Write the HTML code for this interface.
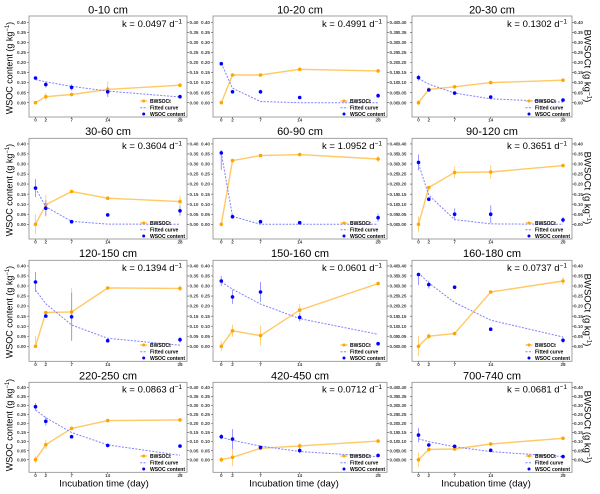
<!DOCTYPE html>
<html><head><meta charset="utf-8"><style>
html,body{margin:0;padding:0;background:#fff;}
svg{display:block;}
text{font-family:"Liberation Sans",Arial,sans-serif;}
.t{font-size:4.6px;font-weight:bold;fill:#444;}
.tc{font-size:4.6px;font-weight:bold;fill:#444;text-anchor:middle;}
.ti{font-size:11px;fill:#000;text-anchor:middle;}
.k{font-size:9.5px;fill:#000;text-anchor:end;}
.lg{font-size:5px;font-weight:bold;fill:#000;}
.ax{font-size:9.6px;fill:#000;text-anchor:middle;}
.yl{font-size:9px;fill:#000;text-anchor:middle;}
.yr{font-size:9.5px;fill:#000;text-anchor:middle;}
.box{fill:none;stroke:#8a8a8a;stroke-width:0.8;}
.ol{fill:none;stroke:#FFC966;stroke-width:1.4;}
.oe{fill:none;stroke:#FFD27F;stroke-width:1;}
.op{fill:#FFA500;}
.bf{fill:none;stroke:#8080FF;stroke-width:1;stroke-dasharray:2 1.4;}
.be{fill:none;stroke:#9A9AFF;stroke-width:1;}
.bp{fill:#0000FF;}
.tk{stroke:#555;stroke-width:2;stroke-dasharray:0.6 9.45;}
.tk4{stroke:#555;stroke-width:2;stroke-dasharray:0.6 8.45;}
.xt{stroke:#555;stroke-width:0.6;}
</style></head><body>
<svg width="600" height="494" viewBox="0 0 600 494" xmlns="http://www.w3.org/2000/svg">
<rect width="600" height="494" fill="#fff"/>

<!-- boxes -->
<rect class="box" x="29" y="16" width="158" height="101"/>
<rect class="box" x="213" y="16" width="174" height="101"/>
<rect class="box" x="412" y="16" width="160" height="101"/>
<rect class="box" x="29" y="138.3" width="158" height="100.7"/>
<rect class="box" x="213" y="138.3" width="174" height="100.7"/>
<rect class="box" x="412" y="138.3" width="160" height="100.7"/>
<rect class="box" x="29" y="260.3" width="158" height="101"/>
<rect class="box" x="213" y="260.3" width="174" height="101"/>
<rect class="box" x="412" y="260.3" width="160" height="101"/>
<rect class="box" x="29" y="382.3" width="158" height="90"/>
<rect class="box" x="213" y="382.3" width="174" height="90"/>
<rect class="box" x="412" y="382.3" width="160" height="90"/>

<!-- titles -->
<text class="ti" x="108" y="13.3">0-10 cm</text>
<text class="ti" x="300" y="13.3">10-20 cm</text>
<text class="ti" x="492" y="13.3">20-30 cm</text>
<text class="ti" x="108" y="135">30-60 cm</text>
<text class="ti" x="300" y="135">60-90 cm</text>
<text class="ti" x="492" y="135">90-120 cm</text>
<text class="ti" x="108" y="257">120-150 cm</text>
<text class="ti" x="300" y="257">150-160 cm</text>
<text class="ti" x="492" y="257">160-180 cm</text>
<text class="ti" x="108" y="379.5">220-250 cm</text>
<text class="ti" x="300" y="379.5">420-450 cm</text>
<text class="ti" x="492" y="379.5">700-740 cm</text>

<!-- k labels -->
<text class="k" x="182" y="27">k = 0.0497 d<tspan dy="-3.5" font-size="6.5">−1</tspan></text>
<text class="k" x="382" y="27">k = 0.4991 d<tspan dy="-3.5" font-size="6.5">−1</tspan></text>
<text class="k" x="567" y="27">k = 0.1302 d<tspan dy="-3.5" font-size="6.5">−1</tspan></text>
<text class="k" x="182" y="149">k = 0.3604 d<tspan dy="-3.5" font-size="6.5">−1</tspan></text>
<text class="k" x="382" y="149">k = 1.0952 d<tspan dy="-3.5" font-size="6.5">−1</tspan></text>
<text class="k" x="567" y="149">k = 0.3651 d<tspan dy="-3.5" font-size="6.5">−1</tspan></text>
<text class="k" x="182" y="271">k = 0.1394 d<tspan dy="-3.5" font-size="6.5">−1</tspan></text>
<text class="k" x="382" y="271">k = 0.0601 d<tspan dy="-3.5" font-size="6.5">−1</tspan></text>
<text class="k" x="567" y="271">k = 0.0737 d<tspan dy="-3.5" font-size="6.5">−1</tspan></text>
<text class="k" x="182" y="392.5">k = 0.0863 d<tspan dy="-3.5" font-size="6.5">−1</tspan></text>
<text class="k" x="382" y="392.5">k = 0.0712 d<tspan dy="-3.5" font-size="6.5">−1</tspan></text>
<text class="k" x="567" y="392.5">k = 0.0681 d<tspan dy="-3.5" font-size="6.5">−1</tspan></text>

<!-- y tick labels rows 1-3 -->
<g transform="translate(0,102.7)">
<line class="tk" x1="28" y1="0.3" x2="28" y2="-81"/><line class="tk" x1="188" y1="0.3" x2="188" y2="-81"/>
<line class="tk" x1="212" y1="0.3" x2="212" y2="-81"/><line class="tk" x1="388" y1="0.3" x2="388" y2="-81"/>
<line class="tk" x1="411" y1="0.3" x2="411" y2="-81"/><line class="tk" x1="573" y1="0.3" x2="573" y2="-81"/>
<text class="t" text-anchor="end"><tspan x="26" y="1.6">0.00</tspan><tspan x="26" y="-8.45">0.05</tspan><tspan x="26" y="-18.5">0.10</tspan><tspan x="26" y="-28.55">0.15</tspan><tspan x="26" y="-38.6">0.20</tspan><tspan x="26" y="-48.65">0.25</tspan><tspan x="26" y="-58.7">0.30</tspan><tspan x="26" y="-68.75">0.35</tspan><tspan x="26" y="-78.8">0.40</tspan></text>
<text class="t"><tspan x="189.5" y="1.6">0.00</tspan><tspan x="189.5" y="-8.45">0.05</tspan><tspan x="189.5" y="-18.5">0.10</tspan><tspan x="189.5" y="-28.55">0.15</tspan><tspan x="189.5" y="-38.6">0.20</tspan><tspan x="189.5" y="-48.65">0.25</tspan><tspan x="189.5" y="-58.7">0.30</tspan><tspan x="189.5" y="-68.75">0.35</tspan><tspan x="189.5" y="-78.8">0.40</tspan></text>
<text class="t" text-anchor="end"><tspan x="210" y="1.6">0.00</tspan><tspan x="210" y="-8.45">0.05</tspan><tspan x="210" y="-18.5">0.10</tspan><tspan x="210" y="-28.55">0.15</tspan><tspan x="210" y="-38.6">0.20</tspan><tspan x="210" y="-48.65">0.25</tspan><tspan x="210" y="-58.7">0.30</tspan><tspan x="210" y="-68.75">0.35</tspan><tspan x="210" y="-78.8">0.40</tspan></text>
<text class="t"><tspan x="389.5" y="1.6">0.00</tspan><tspan x="389.5" y="-8.45">0.05</tspan><tspan x="389.5" y="-18.5">0.10</tspan><tspan x="389.5" y="-28.55">0.15</tspan><tspan x="389.5" y="-38.6">0.20</tspan><tspan x="389.5" y="-48.65">0.25</tspan><tspan x="389.5" y="-58.7">0.30</tspan><tspan x="389.5" y="-68.75">0.35</tspan><tspan x="389.5" y="-78.8">0.40</tspan></text>
<text class="t" text-anchor="end"><tspan x="406.5" y="1.6">0.00</tspan><tspan x="406.5" y="-8.45">0.05</tspan><tspan x="406.5" y="-18.5">0.10</tspan><tspan x="406.5" y="-28.55">0.15</tspan><tspan x="406.5" y="-38.6">0.20</tspan><tspan x="406.5" y="-48.65">0.25</tspan><tspan x="406.5" y="-58.7">0.30</tspan><tspan x="406.5" y="-68.75">0.35</tspan><tspan x="406.5" y="-78.8">0.40</tspan></text>
<text class="t"><tspan x="574" y="1.6">0.00</tspan><tspan x="574" y="-8.45">0.05</tspan><tspan x="574" y="-18.5">0.10</tspan><tspan x="574" y="-28.55">0.15</tspan><tspan x="574" y="-38.6">0.20</tspan><tspan x="574" y="-48.65">0.25</tspan><tspan x="574" y="-58.7">0.30</tspan><tspan x="574" y="-68.75">0.35</tspan><tspan x="574" y="-78.8">0.40</tspan></text>
</g>
<g transform="translate(0,224.3)">
<line class="tk" x1="28" y1="0.3" x2="28" y2="-81"/><line class="tk" x1="188" y1="0.3" x2="188" y2="-81"/>
<line class="tk" x1="212" y1="0.3" x2="212" y2="-81"/><line class="tk" x1="388" y1="0.3" x2="388" y2="-81"/>
<line class="tk" x1="411" y1="0.3" x2="411" y2="-81"/><line class="tk" x1="573" y1="0.3" x2="573" y2="-81"/>
<text class="t" text-anchor="end"><tspan x="26" y="1.6">0.00</tspan><tspan x="26" y="-8.45">0.05</tspan><tspan x="26" y="-18.5">0.10</tspan><tspan x="26" y="-28.55">0.15</tspan><tspan x="26" y="-38.6">0.20</tspan><tspan x="26" y="-48.65">0.25</tspan><tspan x="26" y="-58.7">0.30</tspan><tspan x="26" y="-68.75">0.35</tspan><tspan x="26" y="-78.8">0.40</tspan></text>
<text class="t"><tspan x="189.5" y="1.6">0.00</tspan><tspan x="189.5" y="-8.45">0.05</tspan><tspan x="189.5" y="-18.5">0.10</tspan><tspan x="189.5" y="-28.55">0.15</tspan><tspan x="189.5" y="-38.6">0.20</tspan><tspan x="189.5" y="-48.65">0.25</tspan><tspan x="189.5" y="-58.7">0.30</tspan><tspan x="189.5" y="-68.75">0.35</tspan><tspan x="189.5" y="-78.8">0.40</tspan></text>
<text class="t" text-anchor="end"><tspan x="210" y="1.6">0.00</tspan><tspan x="210" y="-8.45">0.05</tspan><tspan x="210" y="-18.5">0.10</tspan><tspan x="210" y="-28.55">0.15</tspan><tspan x="210" y="-38.6">0.20</tspan><tspan x="210" y="-48.65">0.25</tspan><tspan x="210" y="-58.7">0.30</tspan><tspan x="210" y="-68.75">0.35</tspan><tspan x="210" y="-78.8">0.40</tspan></text>
<text class="t"><tspan x="389.5" y="1.6">0.00</tspan><tspan x="389.5" y="-8.45">0.05</tspan><tspan x="389.5" y="-18.5">0.10</tspan><tspan x="389.5" y="-28.55">0.15</tspan><tspan x="389.5" y="-38.6">0.20</tspan><tspan x="389.5" y="-48.65">0.25</tspan><tspan x="389.5" y="-58.7">0.30</tspan><tspan x="389.5" y="-68.75">0.35</tspan><tspan x="389.5" y="-78.8">0.40</tspan></text>
<text class="t" text-anchor="end"><tspan x="406.5" y="1.6">0.00</tspan><tspan x="406.5" y="-8.45">0.05</tspan><tspan x="406.5" y="-18.5">0.10</tspan><tspan x="406.5" y="-28.55">0.15</tspan><tspan x="406.5" y="-38.6">0.20</tspan><tspan x="406.5" y="-48.65">0.25</tspan><tspan x="406.5" y="-58.7">0.30</tspan><tspan x="406.5" y="-68.75">0.35</tspan><tspan x="406.5" y="-78.8">0.40</tspan></text>
<text class="t"><tspan x="574" y="1.6">0.00</tspan><tspan x="574" y="-8.45">0.05</tspan><tspan x="574" y="-18.5">0.10</tspan><tspan x="574" y="-28.55">0.15</tspan><tspan x="574" y="-38.6">0.20</tspan><tspan x="574" y="-48.65">0.25</tspan><tspan x="574" y="-58.7">0.30</tspan><tspan x="574" y="-68.75">0.35</tspan><tspan x="574" y="-78.8">0.40</tspan></text>
</g>
<g transform="translate(0,346.3)">
<line class="tk" x1="28" y1="0.3" x2="28" y2="-81"/><line class="tk" x1="188" y1="0.3" x2="188" y2="-81"/>
<line class="tk" x1="212" y1="0.3" x2="212" y2="-81"/><line class="tk" x1="388" y1="0.3" x2="388" y2="-81"/>
<line class="tk" x1="411" y1="0.3" x2="411" y2="-81"/><line class="tk" x1="573" y1="0.3" x2="573" y2="-81"/>
<text class="t" text-anchor="end"><tspan x="26" y="1.6">0.00</tspan><tspan x="26" y="-8.45">0.05</tspan><tspan x="26" y="-18.5">0.10</tspan><tspan x="26" y="-28.55">0.15</tspan><tspan x="26" y="-38.6">0.20</tspan><tspan x="26" y="-48.65">0.25</tspan><tspan x="26" y="-58.7">0.30</tspan><tspan x="26" y="-68.75">0.35</tspan><tspan x="26" y="-78.8">0.40</tspan></text>
<text class="t"><tspan x="189.5" y="1.6">0.00</tspan><tspan x="189.5" y="-8.45">0.05</tspan><tspan x="189.5" y="-18.5">0.10</tspan><tspan x="189.5" y="-28.55">0.15</tspan><tspan x="189.5" y="-38.6">0.20</tspan><tspan x="189.5" y="-48.65">0.25</tspan><tspan x="189.5" y="-58.7">0.30</tspan><tspan x="189.5" y="-68.75">0.35</tspan><tspan x="189.5" y="-78.8">0.40</tspan></text>
<text class="t" text-anchor="end"><tspan x="210" y="1.6">0.00</tspan><tspan x="210" y="-8.45">0.05</tspan><tspan x="210" y="-18.5">0.10</tspan><tspan x="210" y="-28.55">0.15</tspan><tspan x="210" y="-38.6">0.20</tspan><tspan x="210" y="-48.65">0.25</tspan><tspan x="210" y="-58.7">0.30</tspan><tspan x="210" y="-68.75">0.35</tspan><tspan x="210" y="-78.8">0.40</tspan></text>
<text class="t"><tspan x="389.5" y="1.6">0.00</tspan><tspan x="389.5" y="-8.45">0.05</tspan><tspan x="389.5" y="-18.5">0.10</tspan><tspan x="389.5" y="-28.55">0.15</tspan><tspan x="389.5" y="-38.6">0.20</tspan><tspan x="389.5" y="-48.65">0.25</tspan><tspan x="389.5" y="-58.7">0.30</tspan><tspan x="389.5" y="-68.75">0.35</tspan><tspan x="389.5" y="-78.8">0.40</tspan></text>
<text class="t" text-anchor="end"><tspan x="406.5" y="1.6">0.00</tspan><tspan x="406.5" y="-8.45">0.05</tspan><tspan x="406.5" y="-18.5">0.10</tspan><tspan x="406.5" y="-28.55">0.15</tspan><tspan x="406.5" y="-38.6">0.20</tspan><tspan x="406.5" y="-48.65">0.25</tspan><tspan x="406.5" y="-58.7">0.30</tspan><tspan x="406.5" y="-68.75">0.35</tspan><tspan x="406.5" y="-78.8">0.40</tspan></text>
<text class="t"><tspan x="574" y="1.6">0.00</tspan><tspan x="574" y="-8.45">0.05</tspan><tspan x="574" y="-18.5">0.10</tspan><tspan x="574" y="-28.55">0.15</tspan><tspan x="574" y="-38.6">0.20</tspan><tspan x="574" y="-48.65">0.25</tspan><tspan x="574" y="-58.7">0.30</tspan><tspan x="574" y="-68.75">0.35</tspan><tspan x="574" y="-78.8">0.40</tspan></text>
</g>
<g transform="translate(0,459.7)">
<line class="tk4" x1="28" y1="0.3" x2="28" y2="-73"/><line class="tk4" x1="188" y1="0.3" x2="188" y2="-73"/>
<line class="tk4" x1="212" y1="0.3" x2="212" y2="-73"/><line class="tk4" x1="388" y1="0.3" x2="388" y2="-73"/>
<line class="tk4" x1="411" y1="0.3" x2="411" y2="-73"/><line class="tk4" x1="573" y1="0.3" x2="573" y2="-73"/>
<text class="t" text-anchor="end"><tspan x="26" y="1.6">0.00</tspan><tspan x="26" y="-7.45">0.05</tspan><tspan x="26" y="-16.5">0.10</tspan><tspan x="26" y="-25.55">0.15</tspan><tspan x="26" y="-34.6">0.20</tspan><tspan x="26" y="-43.65">0.25</tspan><tspan x="26" y="-52.7">0.30</tspan><tspan x="26" y="-61.75">0.35</tspan><tspan x="26" y="-70.8">0.40</tspan></text>
<text class="t"><tspan x="189.5" y="1.6">0.00</tspan><tspan x="189.5" y="-7.45">0.05</tspan><tspan x="189.5" y="-16.5">0.10</tspan><tspan x="189.5" y="-25.55">0.15</tspan><tspan x="189.5" y="-34.6">0.20</tspan><tspan x="189.5" y="-43.65">0.25</tspan><tspan x="189.5" y="-52.7">0.30</tspan><tspan x="189.5" y="-61.75">0.35</tspan><tspan x="189.5" y="-70.8">0.40</tspan></text>
<text class="t" text-anchor="end"><tspan x="210" y="1.6">0.00</tspan><tspan x="210" y="-7.45">0.05</tspan><tspan x="210" y="-16.5">0.10</tspan><tspan x="210" y="-25.55">0.15</tspan><tspan x="210" y="-34.6">0.20</tspan><tspan x="210" y="-43.65">0.25</tspan><tspan x="210" y="-52.7">0.30</tspan><tspan x="210" y="-61.75">0.35</tspan><tspan x="210" y="-70.8">0.40</tspan></text>
<text class="t"><tspan x="389.5" y="1.6">0.00</tspan><tspan x="389.5" y="-7.45">0.05</tspan><tspan x="389.5" y="-16.5">0.10</tspan><tspan x="389.5" y="-25.55">0.15</tspan><tspan x="389.5" y="-34.6">0.20</tspan><tspan x="389.5" y="-43.65">0.25</tspan><tspan x="389.5" y="-52.7">0.30</tspan><tspan x="389.5" y="-61.75">0.35</tspan><tspan x="389.5" y="-70.8">0.40</tspan></text>
<text class="t" text-anchor="end"><tspan x="406.5" y="1.6">0.00</tspan><tspan x="406.5" y="-7.45">0.05</tspan><tspan x="406.5" y="-16.5">0.10</tspan><tspan x="406.5" y="-25.55">0.15</tspan><tspan x="406.5" y="-34.6">0.20</tspan><tspan x="406.5" y="-43.65">0.25</tspan><tspan x="406.5" y="-52.7">0.30</tspan><tspan x="406.5" y="-61.75">0.35</tspan><tspan x="406.5" y="-70.8">0.40</tspan></text>
<text class="t"><tspan x="574" y="1.6">0.00</tspan><tspan x="574" y="-7.45">0.05</tspan><tspan x="574" y="-16.5">0.10</tspan><tspan x="574" y="-25.55">0.15</tspan><tspan x="574" y="-34.6">0.20</tspan><tspan x="574" y="-43.65">0.25</tspan><tspan x="574" y="-52.7">0.30</tspan><tspan x="574" y="-61.75">0.35</tspan><tspan x="574" y="-70.8">0.40</tspan></text>
</g>

<!-- x ticks and labels -->
<path class="xt" d="M35.5 117v2M45.8 117v2M71.6 117v2M107.7 117v2M180 117v2M221.3 117v2M232.5 117v2M260.5 117v2M299.7 117v2M378.1 117v2M418.5 117v2M428.8 117v2M454.6 117v2M490.7 117v2M563 117v2
M35.5 239v2M45.8 239v2M71.6 239v2M107.7 239v2M180 239v2M221.3 239v2M232.5 239v2M260.5 239v2M299.7 239v2M378.1 239v2M418.5 239v2M428.8 239v2M454.6 239v2M490.7 239v2M563 239v2
M35.5 361.3v2M45.8 361.3v2M71.6 361.3v2M107.7 361.3v2M180 361.3v2M221.3 361.3v2M232.5 361.3v2M260.5 361.3v2M299.7 361.3v2M378.1 361.3v2M418.5 361.3v2M428.8 361.3v2M454.6 361.3v2M490.7 361.3v2M563 361.3v2
M35.5 472.3v2M45.8 472.3v2M71.6 472.3v2M107.7 472.3v2M180 472.3v2M221.3 472.3v2M232.5 472.3v2M260.5 472.3v2M299.7 472.3v2M378.1 472.3v2M418.5 472.3v2M428.8 472.3v2M454.6 472.3v2M490.7 472.3v2M563 472.3v2"/>
<text class="tc"><tspan x="35.5" y="121.7">0</tspan><tspan x="45.8" y="121.7">2</tspan><tspan x="71.6" y="121.7">7</tspan><tspan x="107.7" y="121.7">14</tspan><tspan x="180" y="121.7">28</tspan><tspan x="221.3" y="121.7">0</tspan><tspan x="232.5" y="121.7">2</tspan><tspan x="260.5" y="121.7">7</tspan><tspan x="299.7" y="121.7">14</tspan><tspan x="378.1" y="121.7">28</tspan><tspan x="418.5" y="121.7">0</tspan><tspan x="428.8" y="121.7">2</tspan><tspan x="454.6" y="121.7">7</tspan><tspan x="490.7" y="121.7">14</tspan><tspan x="563" y="121.7">28</tspan></text>
<text class="tc"><tspan x="35.5" y="243.7">0</tspan><tspan x="45.8" y="243.7">2</tspan><tspan x="71.6" y="243.7">7</tspan><tspan x="107.7" y="243.7">14</tspan><tspan x="180" y="243.7">28</tspan><tspan x="221.3" y="243.7">0</tspan><tspan x="232.5" y="243.7">2</tspan><tspan x="260.5" y="243.7">7</tspan><tspan x="299.7" y="243.7">14</tspan><tspan x="378.1" y="243.7">28</tspan><tspan x="418.5" y="243.7">0</tspan><tspan x="428.8" y="243.7">2</tspan><tspan x="454.6" y="243.7">7</tspan><tspan x="490.7" y="243.7">14</tspan><tspan x="563" y="243.7">28</tspan></text>
<text class="tc"><tspan x="35.5" y="366">0</tspan><tspan x="45.8" y="366">2</tspan><tspan x="71.6" y="366">7</tspan><tspan x="107.7" y="366">14</tspan><tspan x="180" y="366">28</tspan><tspan x="221.3" y="366">0</tspan><tspan x="232.5" y="366">2</tspan><tspan x="260.5" y="366">7</tspan><tspan x="299.7" y="366">14</tspan><tspan x="378.1" y="366">28</tspan><tspan x="418.5" y="366">0</tspan><tspan x="428.8" y="366">2</tspan><tspan x="454.6" y="366">7</tspan><tspan x="490.7" y="366">14</tspan><tspan x="563" y="366">28</tspan></text>
<text class="tc"><tspan x="35.5" y="477">0</tspan><tspan x="45.8" y="477">2</tspan><tspan x="71.6" y="477">7</tspan><tspan x="107.7" y="477">14</tspan><tspan x="180" y="477">28</tspan><tspan x="221.3" y="477">0</tspan><tspan x="232.5" y="477">2</tspan><tspan x="260.5" y="477">7</tspan><tspan x="299.7" y="477">14</tspan><tspan x="378.1" y="477">28</tspan><tspan x="418.5" y="477">0</tspan><tspan x="428.8" y="477">2</tspan><tspan x="454.6" y="477">7</tspan><tspan x="490.7" y="477">14</tspan><tspan x="563" y="477">28</tspan></text>

<!-- axis titles -->
<text class="ax" x="104" y="486.5">Incubation time (day)</text>
<text class="ax" x="294" y="486.5">Incubation time (day)</text>
<text class="ax" x="486" y="486.5">Incubation time (day)</text>
<text class="yl" transform="translate(12.3,68) rotate(-90)">WSOC content (g kg<tspan dy="-3.2" font-size="6">−1</tspan><tspan dy="3.2">)</tspan></text>
<text class="yl" transform="translate(12.3,190) rotate(-90)">WSOC content (g kg<tspan dy="-3.2" font-size="6">−1</tspan><tspan dy="3.2">)</tspan></text>
<text class="yl" transform="translate(12.3,312) rotate(-90)">WSOC content (g kg<tspan dy="-3.2" font-size="6">−1</tspan><tspan dy="3.2">)</tspan></text>
<text class="yl" transform="translate(12.3,425) rotate(-90)">WSOC content (g kg<tspan dy="-3.2" font-size="6">−1</tspan><tspan dy="3.2">)</tspan></text>
<text class="yr" transform="translate(584.5,66) rotate(90)">BWSOCt (g kg<tspan dy="-3.2" font-size="6.3">−1</tspan><tspan dy="3.2">)</tspan></text>
<text class="yr" transform="translate(584.5,188) rotate(90)">BWSOCt (g kg<tspan dy="-3.2" font-size="6.3">−1</tspan><tspan dy="3.2">)</tspan></text>
<text class="yr" transform="translate(584.5,310) rotate(90)">BWSOCt (g kg<tspan dy="-3.2" font-size="6.3">−1</tspan><tspan dy="3.2">)</tspan></text>
<text class="yr" transform="translate(584.5,427) rotate(90)">BWSOCt (g kg<tspan dy="-3.2" font-size="6.3">−1</tspan><tspan dy="3.2">)</tspan></text>

<!-- ===== Panel 1 ===== -->
<polyline class="ol" points="35.5,102.7 45.8,96.7 71.6,94.5 107.7,89.4 180,85.2"/>
<path class="oe" d="M45.8 92.7V100.7M71.6 92.5V96.5M107.7 81.4V97.4M180 83.2V87.2"/>
<g class="op"><circle cx="35.5" cy="102.7" r="1.8"/><circle cx="45.8" cy="96.7" r="1.8"/><circle cx="71.6" cy="94.5" r="1.8"/><circle cx="107.7" cy="89.4" r="1.8"/><circle cx="180" cy="85.2" r="1.8"/></g>
<polyline class="bf" points="35.5,79.6 45.8,81.8 71.6,86.4 107.7,91.1 180,97.0"/>
<path class="be" d="M35.5 77V79M45.8 81.6V87.6M71.6 84.4V90.4M107.7 86.8V96.8M180 94.7V98.7"/>
<g class="bp"><circle cx="35.5" cy="78" r="1.8"/><circle cx="45.8" cy="84.6" r="1.8"/><circle cx="71.6" cy="87.4" r="1.8"/><circle cx="107.7" cy="91.8" r="1.8"/><circle cx="180" cy="96.7" r="1.8"/></g>

<!-- ===== Panel 2 ===== -->
<polyline class="ol" points="221.3,102.7 232.5,75 260.5,75 299.7,69.3 378.1,70.9"/>
<path class="oe" d="M378.1 68.9V72.9M260.5 73.8V76.2M232.5 73.8V76.2"/>
<g class="op"><circle cx="221.3" cy="102.7" r="1.8"/><circle cx="232.5" cy="75" r="1.8"/><circle cx="260.5" cy="75" r="1.8"/><circle cx="299.7" cy="69.3" r="1.8"/><circle cx="378.1" cy="70.9" r="1.8"/></g>
<polyline class="bf" points="221.3,63.5 232.5,88.2 260.5,101.5 299.7,102.7 378.1,102.7"/>
<path class="be" d="M260.5 89.8V93.8M378.1 93.3V98.1M232.5 90.8V92.8"/>
<g class="bp"><circle cx="221.3" cy="63.7" r="1.8"/><circle cx="232.5" cy="91.8" r="1.8"/><circle cx="260.5" cy="91.8" r="1.8"/><circle cx="299.7" cy="97.5" r="1.8"/><circle cx="378.1" cy="95.7" r="1.8"/></g>

<!-- ===== Panel 3 ===== -->
<polyline class="ol" points="418.5,102.7 428.8,89.4 454.6,86.8 490.7,82.6 563,80.2"/>
<path class="oe" d="M418.5 100.3V105.1M428.8 87.4V91.4"/>
<g class="op"><circle cx="418.5" cy="102.7" r="1.8"/><circle cx="428.8" cy="89.4" r="1.8"/><circle cx="454.6" cy="86.8" r="1.8"/><circle cx="490.7" cy="82.6" r="1.8"/><circle cx="563" cy="80.2" r="1.8"/></g>
<polyline class="bf" points="418.5,78.6 428.8,84.1 454.6,93.1 490.7,98.8 563,102.1"/>
<path class="be" d="M418.5 74.6V80.6"/>
<g class="bp"><circle cx="418.5" cy="77.6" r="1.8"/><circle cx="428.8" cy="90" r="1.8"/><circle cx="454.6" cy="93.1" r="1.8"/><circle cx="490.7" cy="97.1" r="1.8"/><circle cx="563" cy="100.1" r="1.8"/></g>

<!-- ===== Panel 4 ===== -->
<polyline class="ol" points="35.5,224.3 45.8,204.8 71.6,191.5 107.7,198.2 180,201.6"/>
<path class="oe" d="M35.5 214.3V234.3M45.8 194.8V214.8M180 195.6V207.6"/>
<g class="op"><circle cx="35.5" cy="224.3" r="1.8"/><circle cx="45.8" cy="204.8" r="1.8"/><circle cx="71.6" cy="191.5" r="1.8"/><circle cx="107.7" cy="198.2" r="1.8"/><circle cx="180" cy="201.6" r="1.8"/></g>
<polyline class="bf" points="35.5,188.1 45.8,206.8 71.6,221.4 107.7,224.1 180,224.3"/>
<path class="be" d="M35.5 179.1V197.1M45.8 200.2V216.2M180 205.8V215.8"/>
<g class="bp"><circle cx="35.5" cy="188.1" r="1.8"/><circle cx="45.8" cy="208.2" r="1.8"/><circle cx="71.6" cy="221.7" r="1.8"/><circle cx="107.7" cy="214.9" r="1.8"/><circle cx="180" cy="210.8" r="1.8"/></g>

<!-- ===== Panel 5 ===== -->
<polyline class="ol" points="221.3,224.3 232.5,160.6 260.5,155.6 299.7,154.6 378.1,159"/>
<path class="oe" d="M378.1 156V162M299.7 153.4V155.8"/>
<g class="op"><circle cx="221.3" cy="224.3" r="1.8"/><circle cx="232.5" cy="160.6" r="1.8"/><circle cx="260.5" cy="155.6" r="1.8"/><circle cx="299.7" cy="154.6" r="1.8"/><circle cx="378.1" cy="159" r="1.8"/></g>
<polyline class="bf" points="221.3,152.9 232.5,216.3 260.5,224.3 299.7,224.3 378.1,224.3"/>
<path class="be" d="M221.3 150V170M232.5 214.7V218.7M378.1 213.7V221.7"/>
<g class="bp"><circle cx="221.3" cy="152.9" r="1.8"/><circle cx="232.5" cy="216.7" r="1.8"/><circle cx="260.5" cy="221.7" r="1.8"/><circle cx="299.7" cy="222.7" r="1.8"/><circle cx="378.1" cy="217.7" r="1.8"/></g>

<!-- ===== Panel 6 ===== -->
<polyline class="ol" points="418.5,224.3 428.8,187.5 454.6,172.4 490.7,172 563,165.6"/>
<path class="oe" d="M418.5 216.3V232.3M454.6 166.4V178.4M490.7 165V179M563 163.6V167.6"/>
<g class="op"><circle cx="418.5" cy="224.3" r="1.8"/><circle cx="428.8" cy="187.5" r="1.8"/><circle cx="454.6" cy="172.4" r="1.8"/><circle cx="490.7" cy="172" r="1.8"/><circle cx="563" cy="165.6" r="1.8"/></g>
<polyline class="bf" points="418.5,164 428.8,195.2 454.6,219.6 490.7,223.9 563,224.3"/>
<path class="be" d="M418.5 154.4V170.4M454.6 208.2V220.2M490.7 205.2V223.2M563 216.9V222.9"/>
<g class="bp"><circle cx="418.5" cy="162.4" r="1.8"/><circle cx="428.8" cy="199.2" r="1.8"/><circle cx="454.6" cy="214.2" r="1.8"/><circle cx="490.7" cy="214.2" r="1.8"/><circle cx="563" cy="219.9" r="1.8"/></g>

<!-- ===== Panel 7 ===== -->
<polyline class="ol" points="35.5,346.3 45.8,312.5 71.6,311.9 107.7,288 180,288.4"/>
<path class="oe" d="M35.5 336.3V346.3M71.6 288V338M180 285.4V291.4"/>
<g class="op"><circle cx="35.5" cy="346.3" r="1.8"/><circle cx="45.8" cy="312.5" r="1.8"/><circle cx="71.6" cy="311.9" r="1.8"/><circle cx="107.7" cy="288" r="1.8"/><circle cx="180" cy="288.4" r="1.8"/></g>
<polyline class="bf" points="35.5,290 45.8,303.7 71.6,325 107.7,338.3 180,345.2"/>
<path class="be" d="M35.5 272V292M71.6 292.7V340.9M180 336.7V342.7"/>
<g class="bp"><circle cx="35.5" cy="282" r="1.8"/><circle cx="45.8" cy="316.1" r="1.8"/><circle cx="71.6" cy="316.8" r="1.8"/><circle cx="107.7" cy="340.7" r="1.8"/><circle cx="180" cy="339.7" r="1.8"/></g>

<!-- ===== Panel 8 ===== -->
<polyline class="ol" points="221.3,346.3 232.5,330.8 260.5,335.6 299.7,310.1 378.1,283.6"/>
<path class="oe" d="M221.3 341.3V351.3M232.5 324.8V336.8M260.5 325.6V345.6M299.7 304.1V316.1"/>
<g class="op"><circle cx="221.3" cy="346.3" r="1.8"/><circle cx="232.5" cy="330.8" r="1.8"/><circle cx="260.5" cy="335.6" r="1.8"/><circle cx="299.7" cy="310.1" r="1.8"/><circle cx="378.1" cy="283.6" r="1.8"/></g>
<polyline class="bf" points="221.3,282 232.5,289.2 260.5,304.1 299.7,318.6 378.1,334.3"/>
<path class="be" d="M221.3 276V286M232.5 289.9V303.9M260.5 282V302M299.7 313.4V321.4"/>
<g class="bp"><circle cx="221.3" cy="281" r="1.8"/><circle cx="232.5" cy="296.9" r="1.8"/><circle cx="260.5" cy="292" r="1.8"/><circle cx="299.7" cy="317.4" r="1.8"/><circle cx="378.1" cy="343.7" r="1.8"/></g>

<!-- ===== Panel 9 ===== -->
<polyline class="ol" points="418.5,346.3 428.8,336.2 454.6,333.6 490.7,292 563,281"/>
<path class="oe" d="M418.5 336.3V356.3M428.8 333.2V339.2M563 277V285"/>
<g class="op"><circle cx="418.5" cy="346.3" r="1.8"/><circle cx="428.8" cy="336.2" r="1.8"/><circle cx="454.6" cy="333.6" r="1.8"/><circle cx="490.7" cy="292" r="1.8"/><circle cx="563" cy="281" r="1.8"/></g>
<polyline class="bf" points="418.5,272.9 428.8,283 454.6,302.5 490.7,320.2 563,337"/>
<path class="be" d="M418.5 273V285M428.8 280.6V288.6M563 337.3V343.3"/>
<g class="bp"><circle cx="418.5" cy="274.5" r="1.8"/><circle cx="428.8" cy="284.6" r="1.8"/><circle cx="454.6" cy="287.2" r="1.8"/><circle cx="490.7" cy="329.2" r="1.8"/><circle cx="563" cy="340.3" r="1.8"/></g>

<!-- ===== Panel 10 ===== -->
<polyline class="ol" points="35.5,459.7 45.8,444.7 71.6,428.4 107.7,420.6 180,419.9"/>
<path class="oe" d="M35.5 456.1V463.3M45.8 440.2V449.2M71.6 426.6V430.2"/>
<g class="op"><circle cx="35.5" cy="459.7" r="1.8"/><circle cx="45.8" cy="444.7" r="1.8"/><circle cx="71.6" cy="428.4" r="1.8"/><circle cx="107.7" cy="420.6" r="1.8"/><circle cx="180" cy="419.9" r="1.8"/></g>
<polyline class="bf" points="35.5,409.9 45.8,417.7 71.6,432.5 107.7,444.9 180,455.3"/>
<path class="be" d="M35.5 403.1V410.3M45.8 416.8V425.8M71.6 434.9V438.5"/>
<g class="bp"><circle cx="35.5" cy="406.7" r="1.8"/><circle cx="45.8" cy="421.3" r="1.8"/><circle cx="71.6" cy="436.7" r="1.8"/><circle cx="107.7" cy="445.4" r="1.8"/><circle cx="180" cy="446.1" r="1.8"/></g>

<!-- ===== Panel 11 ===== -->
<polyline class="ol" points="221.3,459.7 232.5,457.3 260.5,448.3 299.7,445.9 378.1,441.1"/>
<path class="oe" d="M221.3 457V462.4M232.5 448.3V466.3M299.7 443.2V448.6"/>
<g class="op"><circle cx="221.3" cy="459.7" r="1.8"/><circle cx="232.5" cy="457.3" r="1.8"/><circle cx="260.5" cy="448.3" r="1.8"/><circle cx="299.7" cy="445.9" r="1.8"/><circle cx="378.1" cy="441.1" r="1.8"/></g>
<polyline class="bf" points="221.3,437.4 232.5,440.3 260.5,446.1 299.7,451.5 378.1,456.7"/>
<path class="be" d="M221.3 434V439.4M232.5 429.1V449.1M299.7 447.9V453.3"/>
<g class="bp"><circle cx="221.3" cy="436.7" r="1.8"/><circle cx="232.5" cy="439.1" r="1.8"/><circle cx="260.5" cy="447.4" r="1.8"/><circle cx="299.7" cy="450.6" r="1.8"/><circle cx="378.1" cy="455.4" r="1.8"/></g>

<!-- ===== Panel 12 ===== -->
<polyline class="ol" points="418.5,459.7 428.8,449.4 454.6,449 490.7,444 563,438.3"/>
<path class="oe" d="M418.5 452.5V466.9M428.8 447.6V451.2M490.7 442.2V445.8"/>
<g class="op"><circle cx="418.5" cy="459.7" r="1.8"/><circle cx="428.8" cy="449.4" r="1.8"/><circle cx="454.6" cy="449" r="1.8"/><circle cx="490.7" cy="444" r="1.8"/><circle cx="563" cy="438.3" r="1.8"/></g>
<polyline class="bf" points="418.5,438.9 428.8,441.6 454.6,446.8 490.7,451.6 563,456.6"/>
<path class="be" d="M418.5 427.9V442.3M428.8 443.2V446.8M490.7 448.5V452.1"/>
<g class="bp"><circle cx="418.5" cy="435.1" r="1.8"/><circle cx="428.8" cy="445" r="1.8"/><circle cx="454.6" cy="446.3" r="1.8"/><circle cx="490.7" cy="450.3" r="1.8"/><circle cx="563" cy="456.6" r="1.8"/></g>

<!-- ===== Legends ===== -->
<g>
<path class="ol" d="M140.2 101h7M340.5 101h7M525.5 101h7"/>
<circle class="op" cx="143.7" cy="101" r="1.5"/><circle class="op" cx="344" cy="101" r="1.5"/><circle class="op" cx="529" cy="101" r="1.5"/>
<path class="bf" d="M140.2 107.7h7M340.5 107.7h7M525.5 107.7h7"/>
<circle class="bp" cx="143.7" cy="114" r="1.5"/><circle class="bp" cx="344" cy="114" r="1.5"/><circle class="bp" cx="529" cy="114" r="1.5"/>
<text class="lg"><tspan x="150" y="102.8">BWSOCt</tspan><tspan x="150" y="109.5">Fitted curve</tspan><tspan x="150" y="115.8">WSOC content</tspan></text>
<text class="lg"><tspan x="350" y="102.8">BWSOCt</tspan><tspan x="350" y="109.5">Fitted curve</tspan><tspan x="350" y="115.8">WSOC content</tspan></text>
<text class="lg"><tspan x="535" y="102.8">BWSOCt</tspan><tspan x="535" y="109.5">Fitted curve</tspan><tspan x="535" y="115.8">WSOC content</tspan></text>
</g>
<g>
<path class="ol" d="M140.2 223h7M340.5 223h7M525.5 223h7"/>
<circle class="op" cx="143.7" cy="223" r="1.5"/><circle class="op" cx="344" cy="223" r="1.5"/><circle class="op" cx="529" cy="223" r="1.5"/>
<path class="bf" d="M140.2 229.7h7M340.5 229.7h7M525.5 229.7h7"/>
<circle class="bp" cx="143.7" cy="236" r="1.5"/><circle class="bp" cx="344" cy="236" r="1.5"/><circle class="bp" cx="529" cy="236" r="1.5"/>
<text class="lg"><tspan x="150" y="224.8">BWSOCt</tspan><tspan x="150" y="231.5">Fitted curve</tspan><tspan x="150" y="237.8">WSOC content</tspan></text>
<text class="lg"><tspan x="350" y="224.8">BWSOCt</tspan><tspan x="350" y="231.5">Fitted curve</tspan><tspan x="350" y="237.8">WSOC content</tspan></text>
<text class="lg"><tspan x="535" y="224.8">BWSOCt</tspan><tspan x="535" y="231.5">Fitted curve</tspan><tspan x="535" y="237.8">WSOC content</tspan></text>
</g>
<g>
<path class="ol" d="M140.2 345h7M340.5 345h7M525.5 345h7"/>
<circle class="op" cx="143.7" cy="345" r="1.5"/><circle class="op" cx="344" cy="345" r="1.5"/><circle class="op" cx="529" cy="345" r="1.5"/>
<path class="bf" d="M140.2 351.7h7M340.5 351.7h7M525.5 351.7h7"/>
<circle class="bp" cx="143.7" cy="358" r="1.5"/><circle class="bp" cx="344" cy="358" r="1.5"/><circle class="bp" cx="529" cy="358" r="1.5"/>
<text class="lg"><tspan x="150" y="346.8">BWSOCt</tspan><tspan x="150" y="353.5">Fitted curve</tspan><tspan x="150" y="359.8">WSOC content</tspan></text>
<text class="lg"><tspan x="350" y="346.8">BWSOCt</tspan><tspan x="350" y="353.5">Fitted curve</tspan><tspan x="350" y="359.8">WSOC content</tspan></text>
<text class="lg"><tspan x="535" y="346.8">BWSOCt</tspan><tspan x="535" y="353.5">Fitted curve</tspan><tspan x="535" y="359.8">WSOC content</tspan></text>
</g>
<g>
<path class="ol" d="M140.2 456h7M340.5 456h7M525.5 456h7"/>
<circle class="op" cx="143.7" cy="456" r="1.5"/><circle class="op" cx="344" cy="456" r="1.5"/><circle class="op" cx="529" cy="456" r="1.5"/>
<path class="bf" d="M140.2 462.7h7M340.5 462.7h7M525.5 462.7h7"/>
<circle class="bp" cx="143.7" cy="469" r="1.5"/><circle class="bp" cx="344" cy="469" r="1.5"/><circle class="bp" cx="529" cy="469" r="1.5"/>
<text class="lg"><tspan x="150" y="457.8">BWSOCt</tspan><tspan x="150" y="464.5">Fitted curve</tspan><tspan x="150" y="470.8">WSOC content</tspan></text>
<text class="lg"><tspan x="350" y="457.8">BWSOCt</tspan><tspan x="350" y="464.5">Fitted curve</tspan><tspan x="350" y="470.8">WSOC content</tspan></text>
<text class="lg"><tspan x="535" y="457.8">BWSOCt</tspan><tspan x="535" y="464.5">Fitted curve</tspan><tspan x="535" y="470.8">WSOC content</tspan></text>
</g>
</svg>
</body></html>
